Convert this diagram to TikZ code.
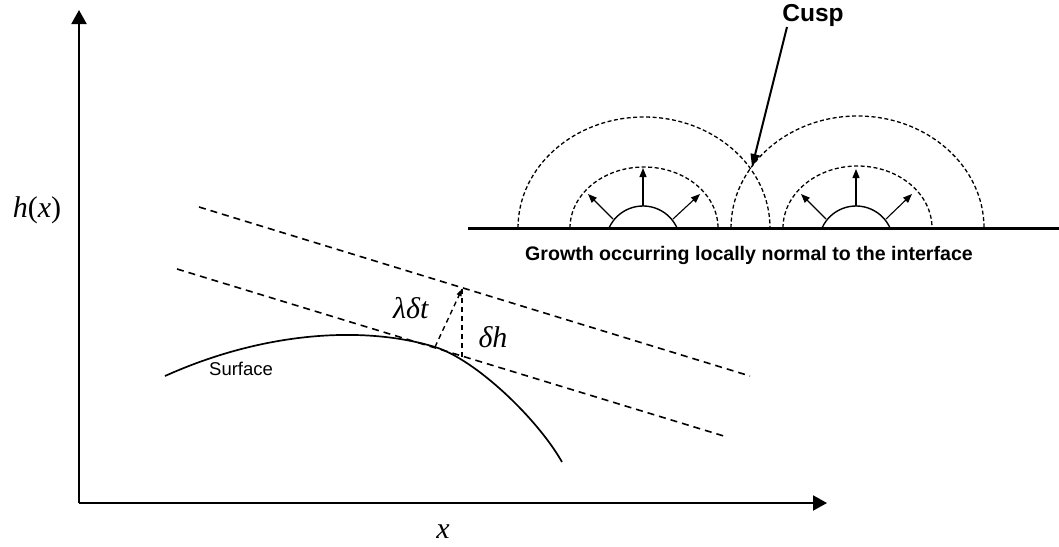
\documentclass[tikz,border=0pt]{standalone}
\usepackage{fontspec}
\setmainfont{Liberation Serif}
\newfontfamily\arialf{Liberation Sans}
\usetikzlibrary{arrows.meta}
\tikzset{
  axisline/.style={line width=2pt,-{Triangle[length=14pt,width=15pt]}},
  guide/.style={line width=1.6pt,dash pattern=on 7pt off 5pt},
  fineguide/.style={line width=1.4pt,dash pattern=on 5pt off 4pt},
  frontline/.style={line width=1.3pt,dash pattern=on 4pt off 2.5pt},
  growarrow/.style={line width=1.1pt,-{Triangle[length=9pt,width=7pt]}},
  surf/.style={line width=1.7pt},
  mathlab/.style={inner sep=0pt,font=\fontsize{30}{32}\selectfont},
}
\begin{document}
\begin{tikzpicture}[x=1pt,y=-1pt]
\useasboundingbox (0,0) rectangle (1059,546);
% axes
\coordinate (O) at (79,503);
\coordinate (Ytip) at (79,10);
\coordinate (Xtip) at (827,503);
\draw[axisline] (O) -- (Ytip);
\draw[axisline] (O) -- (Xtip);
\node[mathlab,anchor=base] (hx) at (37,217) {\textit{h}(\textit{x})};
\node[mathlab,anchor=base] (xl) at (443,538) {\textit{x}};
% surface
\coordinate (S0) at (165,376);
\coordinate (S1) at (435,347);
\coordinate (S2) at (562,462);
\draw[surf] (S0) .. controls (265,331) and (365,325.65) .. (S1)
                 .. controls (475,359.2) and (537,418) .. (S2);
\node[anchor=base west,inner sep=0pt,font=\arialf\fontsize{18.5}{20}\selectfont] (surface) at (209,375) {Surface};
% dashed fronts
\coordinate (U1) at (199,207);
\coordinate (U2) at (750,376);
\coordinate (L1) at (177,269);
\coordinate (L2) at (727,437);
\draw[guide] (U1) -- (U2);
\draw[guide] (L1) -- (L2);
\coordinate (P) at (462,289);
\coordinate (Q) at (462,357);
\coordinate (T) at (435,347);
\draw[fineguide] (Q) -- (P);
\draw[fineguide,-{Triangle[length=7pt,width=5pt]}] (T) -- (P);
\node[mathlab,anchor=base] (lam) at (411,318) {\textit{λδt}};
\node[mathlab,anchor=base] (dh) at (493,347) {\textit{δh}};
% inset
\coordinate (B1) at (468,228);
\coordinate (B2) at (1059,228);
\draw[line width=3pt] (B1) -- (B2);
\node[anchor=base,inner sep=0pt,font=\arialf\bfseries\fontsize{19.6}{21}\selectfont] (caption) at (749,260) {Growth occurring locally normal to the interface};
% left seed
\draw[line width=1.4pt] (609,228) arc[start angle=204.2,end angle=335.8,radius=37.3];
\draw[frontline] (570,228) arc[start angle=180,end angle=360,x radius=74,y radius=61];
\draw[frontline] (518,228) arc[start angle=180,end angle=360,x radius=126,y radius=111];
\coordinate (a1s) at (643,206); \coordinate (a1e) at (643,168);
\coordinate (a2s) at (613,219); \coordinate (a2e) at (588,194);
\coordinate (a3s) at (673,219); \coordinate (a3e) at (700,194);
\draw[growarrow] (a1s) -- (a1e);
\draw[growarrow] (a2s) -- (a2e);
\draw[growarrow] (a3s) -- (a3e);
% right seed
\draw[line width=1.4pt] (822,228) arc[start angle=204.2,end angle=335.8,radius=37.3];
\draw[frontline] (783,228) arc[start angle=180,end angle=360,x radius=74.5,y radius=62];
\draw[frontline] (731,228) arc[start angle=180,end angle=360,x radius=126.5,y radius=112];
\coordinate (b1s) at (856,206); \coordinate (b1e) at (856,169);
\coordinate (b2s) at (826,219); \coordinate (b2e) at (801,194);
\coordinate (b3s) at (886,219); \coordinate (b3e) at (912,194);
\draw[growarrow] (b1s) -- (b1e);
\draw[growarrow] (b2s) -- (b2e);
\draw[growarrow] (b3s) -- (b3e);
% cusp
\node[anchor=base,inner sep=0pt,font=\arialf\bfseries\fontsize{24.5}{26}\selectfont] (cusp) at (813,21) {Cusp};
\coordinate (cuspstart) at (787,27);
\coordinate (cusppt) at (752,167);
\draw[line width=2pt,-{Triangle[length=13pt,width=9pt]}] (cuspstart) -- (cusppt);
\end{tikzpicture}
\end{document}
